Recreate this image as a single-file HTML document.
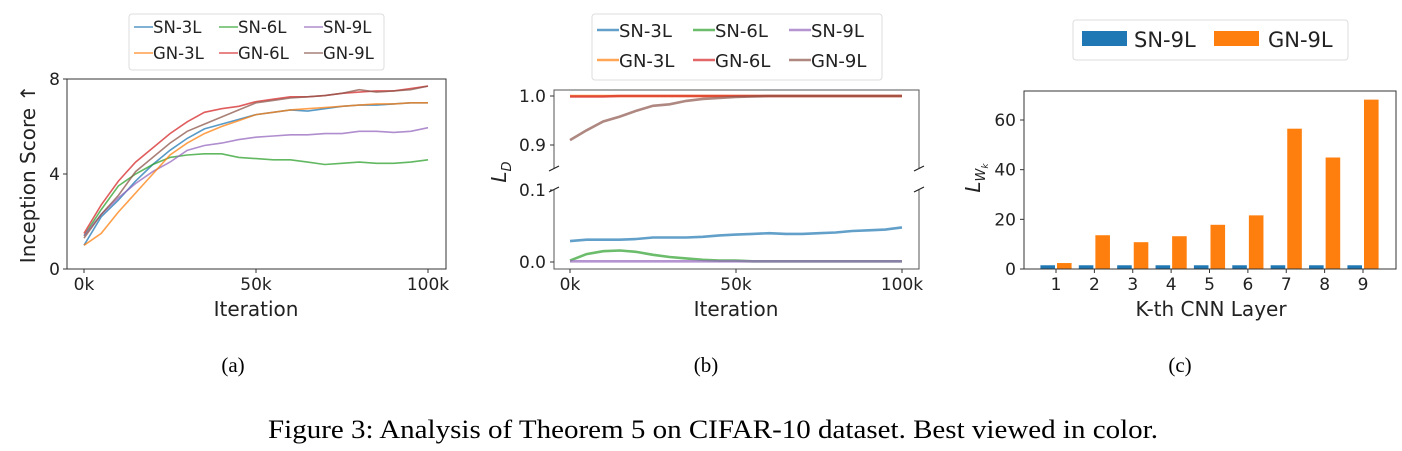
<!DOCTYPE html>
<html><head><meta charset="utf-8"><style>
html,body{margin:0;background:#fff;overflow:hidden;width:1402px;height:451px;}
svg{display:block;font-family:"DejaVu Sans","Liberation Sans",sans-serif;}
.cap{font-family:"Liberation Serif",serif;}
</style></head><body>
<svg id="fig" width="1402" height="451" viewBox="0 0 1402 451"></svg>
<script>
const iters=[0,5,10,15,20,25,30,35,40,45,50,55,60,65,70,75,80,85,90,95,100];
const seriesNames=["SN-3L","SN-6L","SN-9L","GN-3L","GN-6L","GN-9L"];
const colors=["#1f77b4","#2ca02c","#9467bd","#ff7f0e","#d62728","#8c564b"];
const isSN3=[1.0,2.2,2.9,3.7,4.4,5.0,5.5,5.9,6.1,6.3,6.5,6.6,6.7,6.65,6.75,6.85,6.9,6.9,6.95,7.0,7.0];
const isSN6=[1.4,2.5,3.5,4.0,4.4,4.7,4.8,4.85,4.85,4.7,4.65,4.6,4.6,4.5,4.4,4.45,4.5,4.45,4.45,4.5,4.6];
const isSN9=[1.4,2.3,3.0,3.6,4.1,4.5,5.0,5.2,5.3,5.45,5.55,5.6,5.65,5.65,5.7,5.7,5.8,5.8,5.75,5.8,5.95];
const isGN3=[1.0,1.5,2.4,3.2,4.0,4.8,5.3,5.7,6.0,6.25,6.5,6.6,6.7,6.75,6.8,6.85,6.9,6.95,6.95,7.0,7.0];
const isGN6=[1.5,2.7,3.7,4.5,5.1,5.7,6.2,6.6,6.75,6.85,7.05,7.15,7.25,7.25,7.3,7.4,7.45,7.5,7.5,7.6,7.7];
const isGN9=[1.3,2.3,3.1,4.1,4.7,5.3,5.8,6.1,6.4,6.7,7.0,7.1,7.2,7.25,7.3,7.4,7.55,7.45,7.5,7.55,7.7];
const ldSN3=[.029,.031,.031,.031,.032,.034,.034,.034,.035,.037,.038,.039,.040,.039,.039,.040,.041,.043,.044,.045,.048];
const ldSN6=[.002,.011,.015,.016,.014,.010,.007,.005,.003,.002,.002,.001,.001,.001,.001,.001,.001,.001,.001,.001,.001];
const ldSN9=[.001,.001,.001,.001,.001,.001,.001,.001,.001,.001,.001,.001,.001,.001,.001,.001,.001,.001,.001,.001,.001];
const ldGN3=[1,1,1,1,1,1,1,1,1,1,1,1,1,1,1,1,1,1,1,1,1];
const ldGN6=[.999,.999,.999,1,1,1,1,1,1,1,1,1,1,1,1,1,1,1,1,1,1];
const ldGN9=[.91,.93,.948,.958,.97,.98,.983,.99,.994,.996,.998,.999,1,1,1,1,1,1,1,1,1];
const layers=["1","2","3","4","5","6","7","8","9"];
const lwSN=[1.5,1.5,1.5,1.5,1.5,1.5,1.5,1.5,1.5];
const lwGN=[2.4,13.6,10.8,13.2,17.8,21.6,56.5,44.9,68.2];
const xTicks=[0,50,100];
const isTicks=[0,4,8];
const lwTicks=[0,20,40,60];

const NS="http://www.w3.org/2000/svg";
const svg=document.getElementById('fig');
function el(tag,attrs,parent,txt){const e=document.createElementNS(NS,tag);for(const k in attrs)e.setAttribute(k,attrs[k]);if(txt!==undefined)e.textContent=txt;(parent||svg).appendChild(e);return e;}
function lin(d0,d1,r0,r1){return v=>r0+(v-d0)*(r1-r0)/(d1-d0);}
function path(xs,ys,sx,sy){return xs.map((x,i)=>(i?'L':'M')+sx(x).toFixed(1)+','+sy(ys[i]).toFixed(1)).join('');}
// ---------- (a)
const ga=el('g',{},svg);
const ax=lin(0,100,84,428), ay=lin(0,8,269,79);
const isData=[isSN3,isSN6,isSN9,isGN3,isGN6,isGN9];
isData.forEach((d,i)=>{const p=el('path',{d:path(iters,d,ax,ay),fill:'none',stroke:colors[i],'stroke-width':1.6,'stroke-opacity':0.75},ga);});
el('rect',{x:67,y:79,width:379,height:190,fill:'none',stroke:'#333','stroke-width':1},ga);
xTicks.forEach(t=>{el('line',{x1:ax(t),x2:ax(t),y1:269,y2:273,stroke:'#333'},ga);el('text',{x:ax(t),y:290,'font-size':17,'text-anchor':'middle',fill:'#222'},ga,t+'k');});
isTicks.forEach(t=>{el('line',{x1:63,x2:67,y1:ay(t),y2:ay(t),stroke:'#333'},ga);el('text',{x:60,y:ay(t)+6,'font-size':17,'text-anchor':'end',fill:'#222'},ga,t);});
el('text',{x:256,y:316,'font-size':20,'text-anchor':'middle',fill:'#222',},ga,'Iteration');
el('text',{x:0,y:0,'font-size':20,'text-anchor':'middle',fill:'#222',transform:'translate(35,174) rotate(-90)',},ga,'Inception Score ↑');
const la=el('g',{},ga);
el('rect',{x:129,y:14,width:255,height:56,rx:3,fill:'#fff',stroke:'#ddd'},la);
seriesNames.forEach((n,i)=>{const cx=134+(i%3)*85, cy=27+Math.floor(i/3)*26;
 el('line',{x1:cx,x2:cx+19,y1:cy,y2:cy,stroke:colors[i],'stroke-width':1.6,'stroke-opacity':0.75},la);
 el('text',{x:cx+19,y:cy+6,'font-size':16.5,fill:'#222'},la,n);});
// ---------- (b)
const gb=el('g',{},svg);
const bx=lin(0,100,570,902), byT=lin(0.9,1.0,145,96), byB=lin(0,0.1,262,190);
const ldData=[ldSN3,ldSN6,ldSN9,ldGN3,ldGN6,ldGN9];
el('clipPath',{id:'ct'},gb);el('rect',{x:554,y:90,width:365,height:78},document.getElementById('ct'));
el('clipPath',{id:'cb'},gb);el('rect',{x:554,y:189,width:365,height:80},document.getElementById('cb'));
ldData.forEach((d,i)=>{
 const p1=el('path',{d:path(iters,d,bx,byT),fill:'none',stroke:colors[i],'stroke-width':2.6,'stroke-opacity':0.7,'clip-path':'url(#ct)'},gb);
 
 const p2=el('path',{d:path(iters,d,bx,byB),fill:'none',stroke:colors[i],'stroke-width':2.6,'stroke-opacity':0.7,'clip-path':'url(#cb)'},gb);
 });
el('path',{d:'M554,168V90H919V168M554,189V269H919V189',fill:'none',stroke:'#555','stroke-width':1},gb);
el('path',{d:'M549,171L559,166M914,171L924,166M549,192L559,187M914,192L924,187',stroke:'#222','stroke-width':1.2},gb);
xTicks.forEach(t=>{el('line',{x1:bx(t),x2:bx(t),y1:269,y2:273,stroke:'#333'},gb);el('text',{x:bx(t),y:290,'font-size':17,'text-anchor':'middle',fill:'#222'},gb,t+'k');});
[[0.9,byT],[1.0,byT],[0.0,byB],[0.1,byB]].forEach(([t,f])=>{el('line',{x1:550,x2:554,y1:f(t),y2:f(t),stroke:'#333'},gb);el('text',{x:546,y:f(t)+6,'font-size':17,'text-anchor':'end',fill:'#222'},gb,t.toFixed(1));});
el('text',{x:736,y:316,'font-size':20,'text-anchor':'middle',fill:'#222',},gb,'Iteration');
const yl=el('text',{x:0,y:0,'font-size':20,'font-style':'italic','text-anchor':'middle',fill:'#222',transform:'translate(506,172) rotate(-90)',},gb,'L');
el('tspan',{'font-size':13,dy:5},yl,'D');
const lb=el('g',{},gb);
el('rect',{x:592,y:14,width:290,height:66,rx:3,fill:'#fff',stroke:'#ddd'},lb);
seriesNames.forEach((n,i)=>{const cx=597+(i%3)*96, cy=30+Math.floor(i/3)*30;
 el('line',{x1:cx,x2:cx+22,y1:cy,y2:cy,stroke:colors[i],'stroke-width':2.6,'stroke-opacity':0.7},lb);
 el('text',{x:cx+22,y:cy+7,'font-size':18,fill:'#222'},lb,n);});
// ---------- (c)
const gc=el('g',{},svg);
const cx0=1056, step=(1363-1056)/8, cy=lin(0,60,269,120);
const bw=step*0.38;
layers.forEach((l,i)=>{const c=cx0+i*step;
 const b1=el('rect',{x:c-bw-1,y:cy(lwSN[i]),width:bw,height:cy(0)-cy(lwSN[i]),fill:'#1f77b4'},gc);
 
 const b2=el('rect',{x:c+1,y:cy(lwGN[i]),width:bw,height:cy(0)-cy(lwGN[i]),fill:'#ff7f0e'},gc);
 
 el('line',{x1:c,x2:c,y1:269,y2:273,stroke:'#333'},gc);
 el('text',{x:c,y:290,'font-size':17,'text-anchor':'middle',fill:'#222'},gc,l);});
el('rect',{x:1024,y:91,width:372,height:178,fill:'none',stroke:'#333'},gc);
lwTicks.forEach(t=>{el('line',{x1:1020,x2:1024,y1:cy(t),y2:cy(t),stroke:'#333'},gc);el('text',{x:1016,y:cy(t)+6,'font-size':17,'text-anchor':'end',fill:'#222'},gc,t);});
el('text',{x:1211,y:316,'font-size':20,'text-anchor':'middle',fill:'#222',},gc,'K-th CNN Layer');
const yl2=el('text',{x:0,y:0,'font-size':20,'font-style':'italic','text-anchor':'middle',fill:'#222',transform:'translate(980,178) rotate(-90)',},gc,'L');
el('tspan',{'font-size':13,dy:5},yl2,'W');el('tspan',{'font-size':9,dy:3},yl2,'k');
const lc=el('g',{},gc);
el('rect',{x:1073,y:20,width:275,height:40,rx:3,fill:'#fff',stroke:'#ddd'},lc);
el('rect',{x:1082,y:31,width:45,height:15,fill:'#1f77b4'},lc);
el('text',{x:1134,y:47,'font-size':21,fill:'#222'},lc,'SN-9L');
el('rect',{x:1214,y:31,width:45,height:15,fill:'#ff7f0e'},lc);
el('text',{x:1268,y:47,'font-size':21,fill:'#222'},lc,'GN-9L');
// captions
[['(a)',233],['(b)',706],['(c)',1180]].forEach(([t,x])=>{el('text',{x:x,y:372,'font-size':21,'text-anchor':'middle',fill:'#000','class':'cap',},svg,t);});
el('text',{x:268,y:438,'font-size':26,textLength:890,lengthAdjust:'spacingAndGlyphs',fill:'#000','class':'cap',},svg,'Figure 3: Analysis of Theorem 5 on CIFAR-10 dataset. Best viewed in color.');
</script>
</body></html>
